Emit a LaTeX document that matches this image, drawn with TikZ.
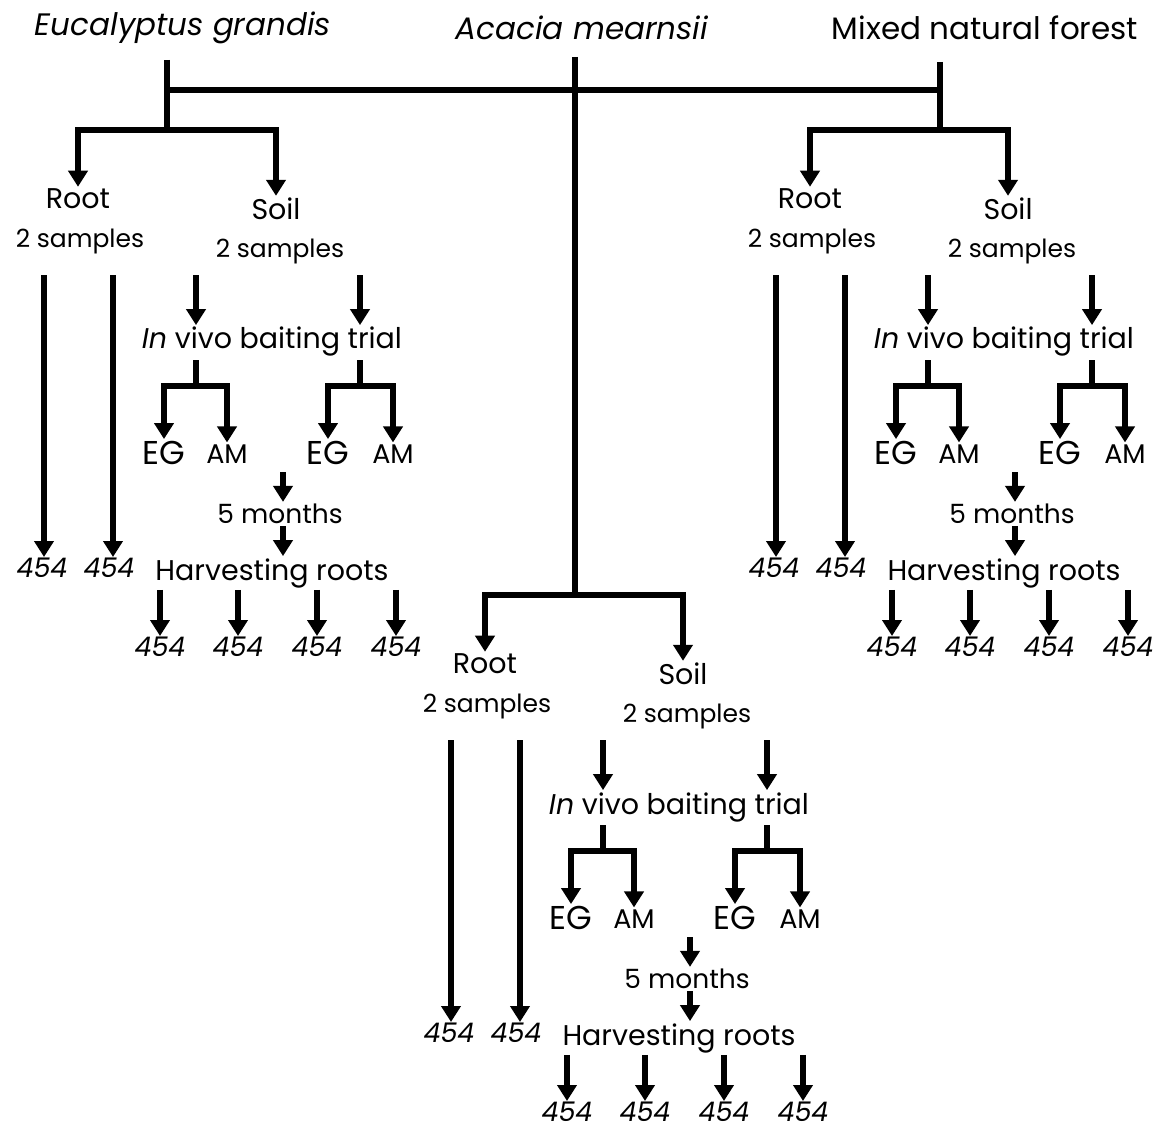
\documentclass[tikz,border=0pt]{standalone}
\usepackage{fontspec}
\setmainfont{Poppins}
\usetikzlibrary{arrows.meta}
\tikzset{
  ln/.style={line width=5.5pt},
  arr/.style={line width=5.5pt,-{Triangle[width=19pt,length=16pt]}},
  lab/.style={inner sep=2pt,font=\fontsize{28.5}{30}\selectfont},
  ttl/.style={inner sep=2pt,font=\fontsize{31}{33}\selectfont},
  sml/.style={inner sep=2pt,font=\fontsize{25}{27}\selectfont},
  big/.style={inner sep=2pt,font=\fontsize{33}{35}\selectfont},
  tag/.style={inner sep=2pt,font=\fontsize{27}{29}\selectfont},
  num/.style={inner sep=1pt,font=\fontsize{27}{29}\selectfont\itshape}
}
\begin{document}
\begin{tikzpicture}[x=1pt,y=-1pt]
\useasboundingbox (0,0) rectangle (1158,1129);
% the three stands
\node[ttl] (eg) at (183,28) {\itshape Eucalyptus grandis};
\node[ttl] (am) at (582,28) {\itshape Acacia mearnsii};
\node[ttl] (mf) at (985,28) {Mixed natural forest};
% one block per stand
\foreach \p/\dx/\dy/\jx in {e/0/0/167,a/407/465/168,m/732/0/208}{
\begin{scope}[shift={(\dx,\dy)}]
\coordinate (\p-j) at (\jx,130);
\node[lab] (\p-root) at (78,199) {Root};
\node[sml] (\p-rn) at (80,241) {2 samples};
\node[lab] (\p-soil) at (276,209) {Soil};
\node[sml] (\p-sn) at (280,251) {2 samples};
\draw[arr] (\p-j) -| (\p-root);
\draw[arr] (\p-j) -| (\p-soil);
% roots straight to 454
\node[num] (\p-n1) at (42,568) {454};
\node[num] (\p-n2) at (109,568) {454};
\coordinate (\p-la) at (44,275);
\coordinate (\p-lb) at (113,275);
\draw[arr] (\p-la) -- (\p-la |- \p-n1.north);
\draw[arr] (\p-lb) -- (\p-lb |- \p-n2.north);
% soil baiting
\node[lab] (\p-trial) at (272,342) {\textit{In} vivo baiting trial};
\coordinate (\p-sa) at (196,275);
\coordinate (\p-sb) at (360,275);
\draw[arr] (\p-sa) -- (\p-sa |- \p-trial.north);
\draw[arr] (\p-sb) -- (\p-sb |- \p-trial.north);
\node[big] (\p-eg1) at (164,453) {EG};
\node[tag] (\p-am1) at (227,454) {AM};
\node[big] (\p-eg2) at (328,453) {EG};
\node[tag] (\p-am2) at (393,454) {AM};
\coordinate (\p-ka) at (196,360);
\coordinate (\p-kb) at (196,386);
\coordinate (\p-kc) at (360,360);
\coordinate (\p-kd) at (360,386);
\draw[ln] (\p-ka) -- (\p-kb);
\draw[ln] (\p-kc) -- (\p-kd);
\draw[arr] (\p-kb) -| (\p-eg1);
\draw[arr] (\p-kb) -| (\p-am1);
\draw[arr] (\p-kd) -| (\p-eg2);
\draw[arr] (\p-kd) -| (\p-am2);
% harvest
\node[lab,font=\fontsize{26.5}{28}\selectfont] (\p-mon) at (280,514) {5 months};
\node[lab] (\p-harv) at (272,573) {Harvesting roots};
\coordinate (\p-mt) at (283,472);
\draw[arr] (\p-mt) -- (\p-mt |- \p-mon.north);
\draw[arr] (\p-mon.south -| \p-mt) -- (\p-harv.north -| \p-mt);
\foreach \i/\x in {1/160,2/238,3/317,4/396}{
  \node[num] (\p-h\i) at (\x,647) {454};
  \draw[arr] (\p-harv.south -| \p-h\i) -- (\p-h\i);
}
\end{scope}}
% stems and cross bar
\coordinate (et) at (167,60);
\coordinate (at) at (575,57);
\coordinate (mt) at (940,62);
\draw[ln] (et) -- (e-j);
\draw[ln] (at) -- (a-j);
\draw[ln] (mt) -- (m-j);
\coordinate (bar-l) at (167,90);
\coordinate (bar-r) at (940,90);
\draw[ln] (bar-l) -- (bar-r);
\end{tikzpicture}
\end{document}
